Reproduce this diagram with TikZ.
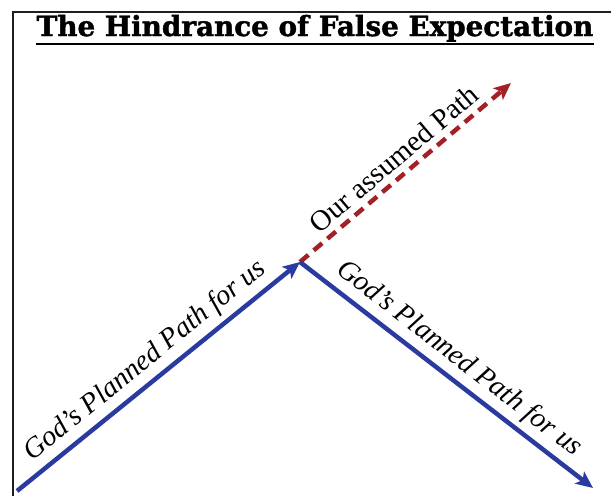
\documentclass[tikz,border=0pt]{standalone}
\usepackage{fontspec}
\usepackage{tikz}
\usetikzlibrary{arrows.meta}
\newfontfamily\titlefont{DejaVu Serif}[BoldFeatures={FakeBold=1.5}]
\newfontfamily\pathfont{Liberation Serif}
\definecolor{pathblue}{RGB}{43,58,158}
\definecolor{pathred}{RGB}{165,32,36}
\definecolor{framegray}{RGB}{30,30,30}

\begin{document}
\begin{tikzpicture}[x=1pt, y=-1pt,
    godpath/.style={-{Stealth[length=17pt, width=15pt, inset=4pt]}, line width=4.5pt, pathblue},
    ourpath/.style={-{Stealth[length=17pt, width=15pt, inset=4pt]}, line width=4.5pt, pathred,
                    dash pattern=on 11pt off 7pt},
    plbl/.style={font=\pathfont\itshape\fontsize{28.5}{32}\selectfont, text=black, inner sep=0pt},
    albl/.style={font=\pathfont\fontsize{29}{32}\selectfont, text=black, inner sep=0pt}
]
\useasboundingbox (0,0) rectangle (611,496);
\draw[framegray, line width=2pt] (13,496) -- (13,12) -- (611,12);
\node[anchor=base, inner sep=0pt, font=\titlefont\bfseries\fontsize{27.8}{32}\selectfont] (title) at (315,36)
    {The Hindrance of False Expectation};
\draw[line width=2pt] ([yshift=-2pt]title.south west) -- ([yshift=-2pt]title.south east);
\coordinate (start) at (17,491);
\coordinate (apex)  at (300,262);
\coordinate (down)  at (593,488);
\coordinate (up)    at (511,83);
\draw[ourpath] (apex) -- (up)
    node[albl, midway, sloped, above=6pt] (ourlbl) {Our assumed Path};
\draw[godpath] (start) -- (apex)
    node[plbl, midway, sloped, above=5pt] (godlbl1) {God’s Planned Path for us};
\draw[godpath] (apex) -- (down)
    node[plbl, midway, sloped, above=5pt] (godlbl2) {God’s Planned Path for us};
\end{tikzpicture}
\end{document}
